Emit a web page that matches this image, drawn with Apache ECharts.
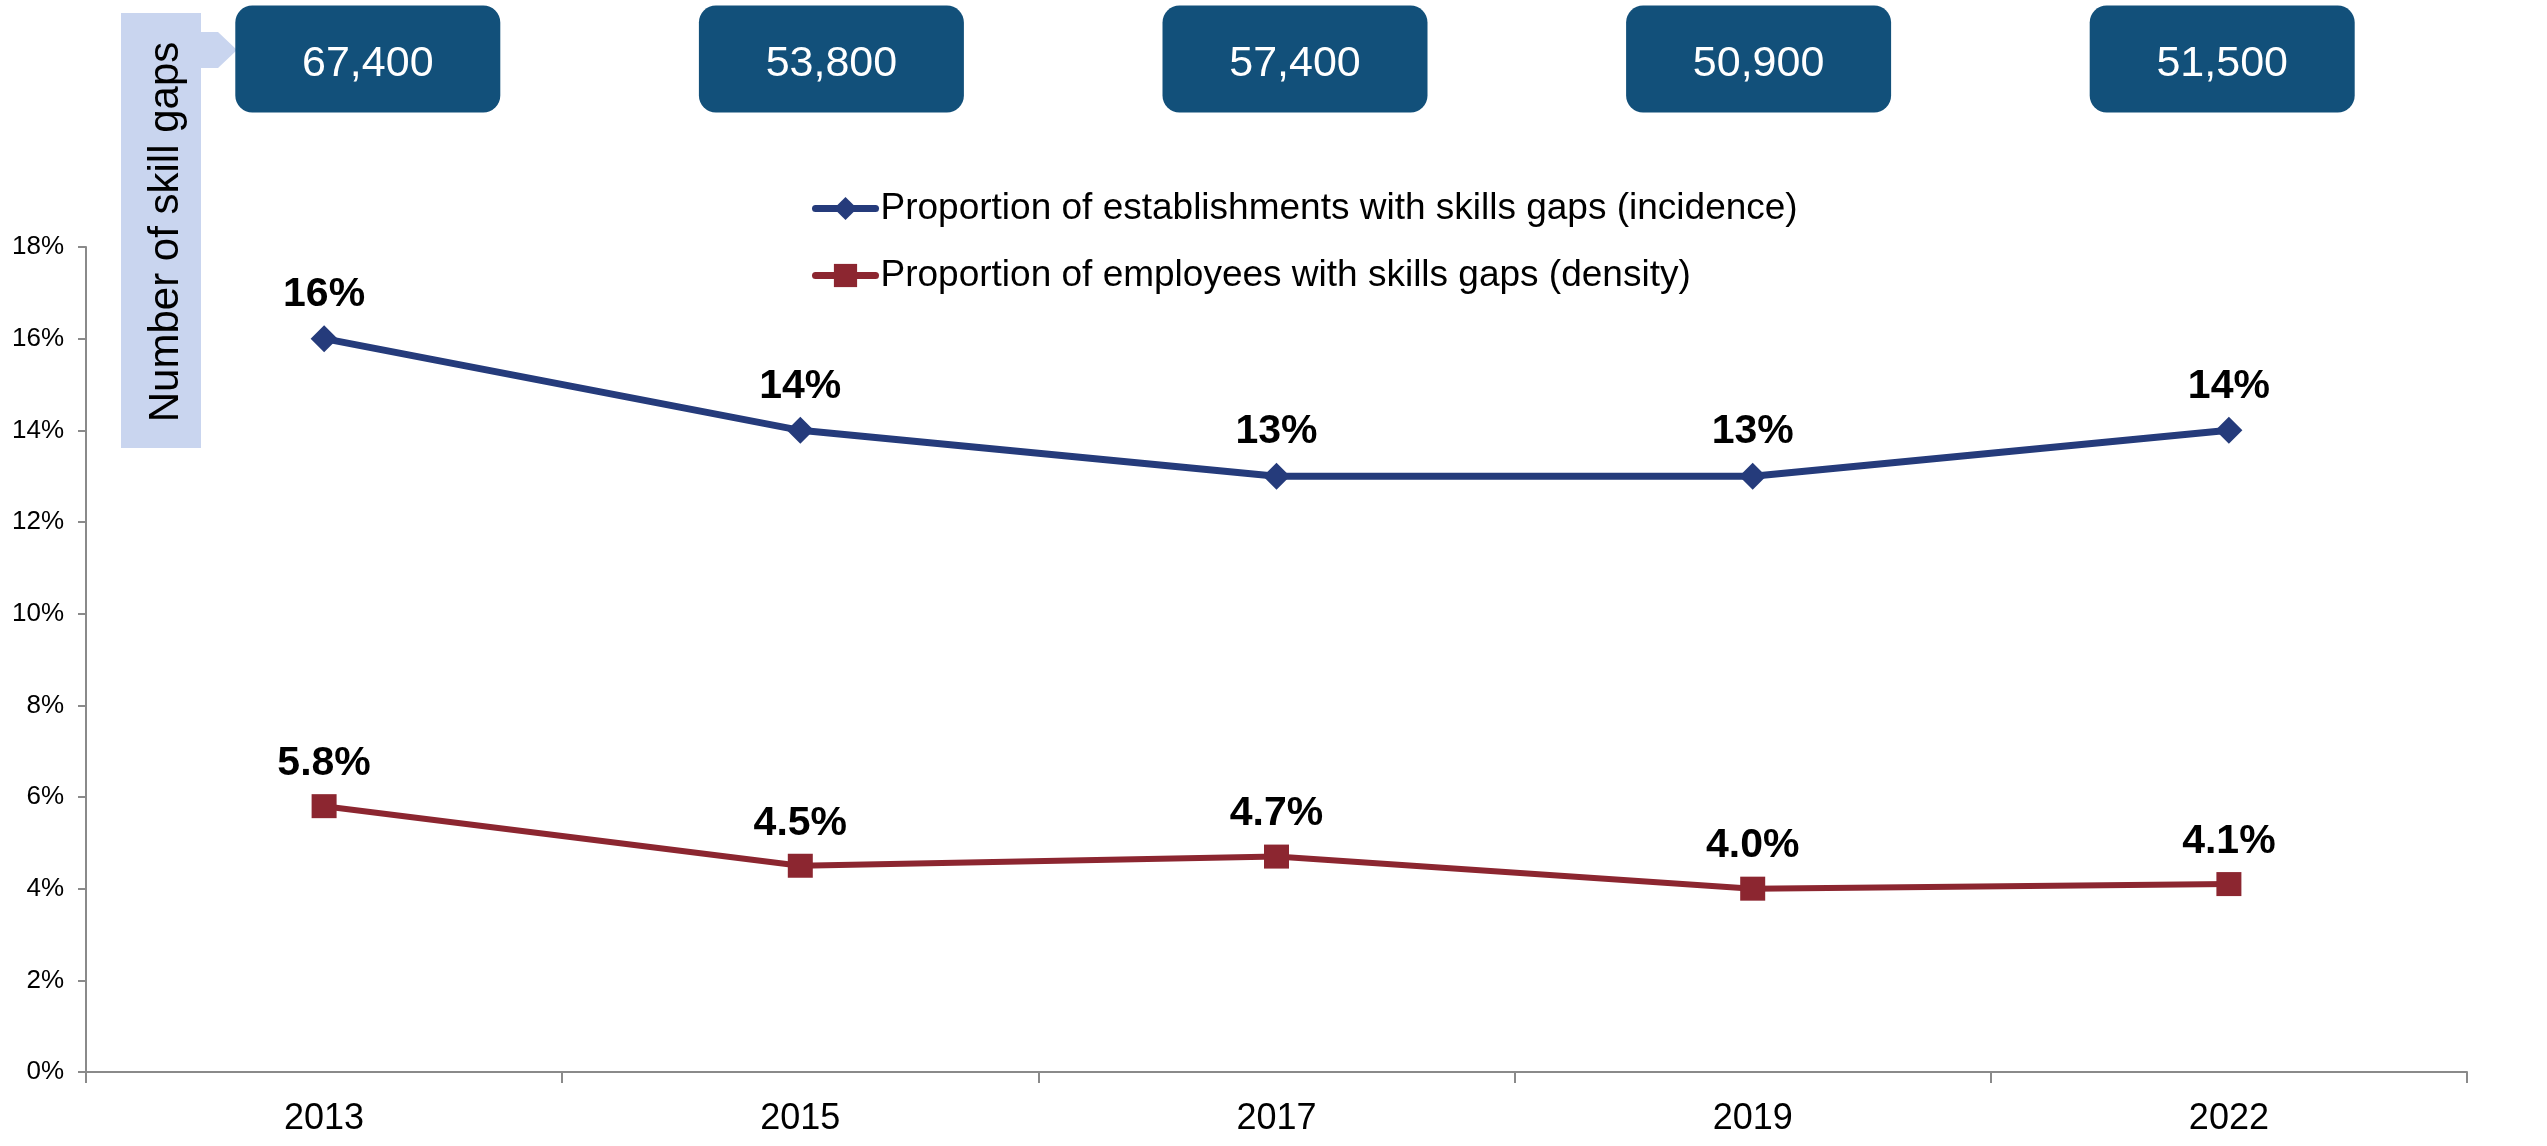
<!DOCTYPE html>
<html>
<head>
<meta charset="utf-8">
<script src="https://cdn.jsdelivr.net/npm/echarts@6/dist/echarts.min.js"></script>
<style>
  html, body { margin: 0; padding: 0; background: #ffffff; }
  #chart { width: 2547px; height: 1146px; }
</style>
</head>
<body>
<div id="chart"></div>
<script>
// Survey years
const years = ['2013', '2015', '2017', '2019', '2022'];
// Proportion of establishments with skills gaps (incidence), %
const incidence = [16, 14, 13, 13, 14];
// Proportion of employees with skills gaps (density), %
const density = [5.8, 4.5, 4.7, 4.0, 4.1];
// Number of skill gaps per survey year
const skillGapCounts = [67400, 53800, 57400, 50900, 51500];
// Percentage axis range
const yMin = 0, yMax = 18, yStep = 2;

const FONT = '"Liberation Sans", Arial, sans-serif';
const BLUE = '#253B7B';
const RED = '#8C2630';
const BOX = '#12507A';
const AXIS = '#8A8A8A';

const fmtThousands = v => String(Math.round(v)).replace(/\B(?=(\d{3})+(?!\d))/g, ',');

const chart = echarts.init(document.getElementById('chart'));

chart.setOption({
  backgroundColor: '#ffffff',
  animation: false,
  textStyle: { fontFamily: FONT },
  grid: [
    { left: 86, right: 80, top: 247, bottom: 74, containLabel: false },
    { left: 136, width: 2318, top: 4, height: 110, containLabel: false }
  ],
  legend: {
    orient: 'vertical',
    left: 812,
    top: 190,
    padding: 0,
    itemWidth: 60,
    itemHeight: 29,
    itemGap: 30,
    lineStyle: { width: 7, cap: 'round' },
    textStyle: { fontSize: 37, color: '#000', fontFamily: FONT, lineHeight: 37 },
    data: [
      'Proportion of establishments with skills gaps (incidence)',
      'Proportion of employees with skills gaps (density)'
    ]
  },
  xAxis: [
    {
      type: 'category',
      gridIndex: 0,
      data: years,
      boundaryGap: true,
      axisLine: { lineStyle: { color: AXIS, width: 2 } },
      axisTick: { show: true, length: 11, lineStyle: { color: AXIS, width: 2 } },
      axisLabel: { fontSize: 36, color: '#000', margin: 29, fontFamily: FONT }
    },
    {
      type: 'category',
      gridIndex: 1,
      data: years,
      boundaryGap: true,
      show: false
    }
  ],
  yAxis: [
    {
      type: 'value',
      gridIndex: 0,
      min: yMin,
      max: yMax,
      interval: yStep,
      axisLine: { show: true, lineStyle: { color: AXIS, width: 2 } },
      axisTick: { show: true, length: 8, lineStyle: { color: AXIS, width: 2 } },
      splitLine: { show: false },
      axisLabel: { fontSize: 26, color: '#000', margin: 22, formatter: '{value}%', fontFamily: FONT }
    },
    {
      type: 'value',
      gridIndex: 1,
      min: 0,
      max: 1,
      show: false
    }
  ],
  graphic: [
    {
      type: 'polygon',
      shape: {
        points: [[121, 13], [201, 13], [201, 32], [218, 32], [237, 50], [218, 68], [201, 68], [201, 448], [121, 448]]
      },
      style: { fill: '#C9D5EF' },
      z: 1
    },
    {
      type: 'text',
      x: 166,
      y: 232,
      rotation: Math.PI / 2,
      style: {
        text: 'Number of skill gaps',
        fill: '#000',
        fontSize: 42,
        fontFamily: FONT,
        textAlign: 'center',
        textVerticalAlign: 'middle'
      },
      z: 2
    }
  ],
  series: [
    {
      name: 'Proportion of establishments with skills gaps (incidence)',
      type: 'line',
      xAxisIndex: 0,
      yAxisIndex: 0,
      data: incidence,
      symbol: 'diamond',
      symbolSize: 27,
      lineStyle: { color: BLUE, width: 7 },
      itemStyle: { color: BLUE },
      label: {
        show: true,
        position: 'top',
        distance: 10,
        fontSize: 41,
        fontWeight: 'bold',
        color: '#000',
        fontFamily: FONT,
        formatter: p => p.value + '%'
      }
    },
    {
      name: 'Proportion of employees with skills gaps (density)',
      type: 'line',
      xAxisIndex: 0,
      yAxisIndex: 0,
      data: density,
      symbol: 'rect',
      symbolSize: [25, 24],
      lineStyle: { color: RED, width: 6 },
      itemStyle: { color: RED },
      label: {
        show: true,
        position: 'top',
        distance: 10,
        fontSize: 41,
        fontWeight: 'bold',
        color: '#000',
        fontFamily: FONT,
        formatter: p => p.value.toFixed(1) + '%'
      }
    },
    {
      name: 'Number of skill gaps',
      type: 'custom',
      xAxisIndex: 1,
      yAxisIndex: 1,
      data: skillGapCounts.map((v, i) => [i, 0.5, v]),
      renderItem: (params, api) => {
        const c = api.coord([api.value(0), api.value(1)]);
        const w = 265, h = 107;
        return {
          type: 'group',
          children: [
            {
              type: 'rect',
              shape: { x: c[0] - w / 2, y: c[1] - h / 2, width: w, height: h, r: 17 },
              style: { fill: BOX }
            },
            {
              type: 'text',
              style: {
                text: fmtThousands(api.value(2)),
                x: c[0],
                y: c[1] + 5,
                textAlign: 'center',
                textVerticalAlign: 'middle',
                fill: '#ffffff',
                fontSize: 43,
                fontFamily: FONT
              }
            }
          ]
        };
      }
    }
  ]
});
</script>
</body>
</html>
